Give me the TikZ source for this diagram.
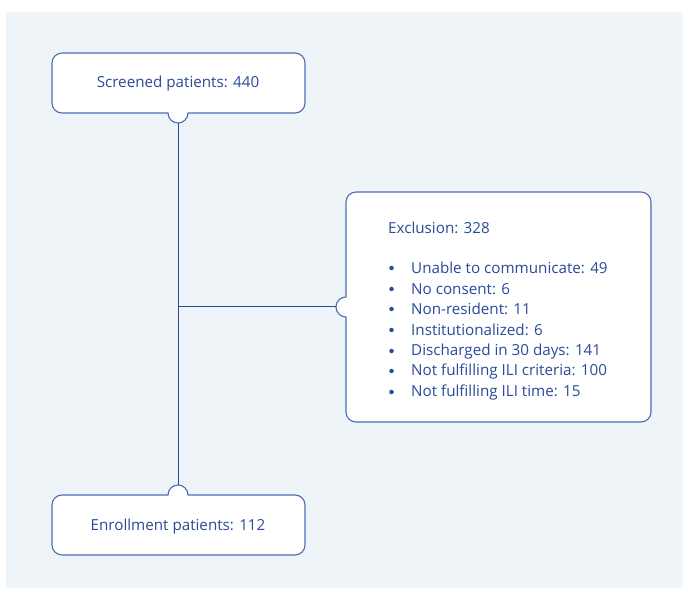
\documentclass[tikz,border=0pt]{standalone}
\usepackage{fontspec}
\setmainfont{Open Sans}
\definecolor{bgc}{HTML}{EFF4F9}
\definecolor{ink}{HTML}{2A4A9A}
\definecolor{boxc}{HTML}{4E6DB2}
\begin{document}
\begin{tikzpicture}[x=1pt,y=1pt,
  boxline/.style={draw=boxc,line width=1.1pt,fill=white},
  conn/.style={draw=ink,line width=1pt},
  lbl/.style={text=ink,font=\fontsize{15.2}{18}\selectfont,inner sep=0pt},
  item/.style={lbl,anchor=west},
  bul/.style={circle,fill=ink,inner sep=0pt,minimum size=4.5pt}]
\useasboundingbox (0,0) rectangle (689,590);
\fill[bgc,rounded corners=3pt] (6,2) rectangle (683,578);
% Screened box
\draw[boxline] (62,537) -- (295,537) arc[start angle=90,end angle=0,radius=10]
  -- (305,487) arc[start angle=0,end angle=-90,radius=10]
  -- (188,477) arc[start angle=0,end angle=-180,radius=10]
  -- (62,477) arc[start angle=270,end angle=180,radius=10]
  -- (52,527) arc[start angle=180,end angle=90,radius=10] -- cycle;
% Enrollment box
\draw[boxline] (62,95) -- (168,95) arc[start angle=180,end angle=0,radius=10]
  -- (295,95) arc[start angle=90,end angle=0,radius=10]
  -- (305,45) arc[start angle=0,end angle=-90,radius=10]
  -- (62,35) arc[start angle=270,end angle=180,radius=10]
  -- (52,85) arc[start angle=180,end angle=90,radius=10] -- cycle;
% Exclusion box
\draw[boxline] (356,398) -- (641,398) arc[start angle=90,end angle=0,radius=10]
  -- (651,178) arc[start angle=0,end angle=-90,radius=10]
  -- (356,168) arc[start angle=270,end angle=180,radius=10]
  -- (346,273) arc[start angle=-90,end angle=-270,radius=10]
  -- (346,388) arc[start angle=180,end angle=90,radius=10] -- cycle;
% texts
\node[lbl] (screened) at (178,506) {Screened patients: 440};
\node[lbl] (enrolled) at (178,63.5) {Enrollment patients: 112};
\node[item] (excl) at (388,362) {Exclusion: 328};
\foreach \y/\t [count=\i] in {322/Unable to communicate: 49, 301/No consent: 6, 281/Non-resident: 11, 260/Institutionalized: 6, 239/Discharged in 30 days: 141, 219/Not fulfilling ILI criteria: 100, 198/Not fulfilling ILI time: 15}{
  \node[bul] (b\i) at (391.5,\y) {};
  \node[item] (t\i) at (411,\y-0.3) {\t};
}
% connector anchors
\coordinate (stip) at (178,467);
\coordinate (etip) at (178,105);
\coordinate (junc) at (178,283);
\coordinate (xtip) at (336,283);
\draw[conn] (stip) -- (etip);
\draw[conn] (junc) -- (xtip);
\end{tikzpicture}
\end{document}
